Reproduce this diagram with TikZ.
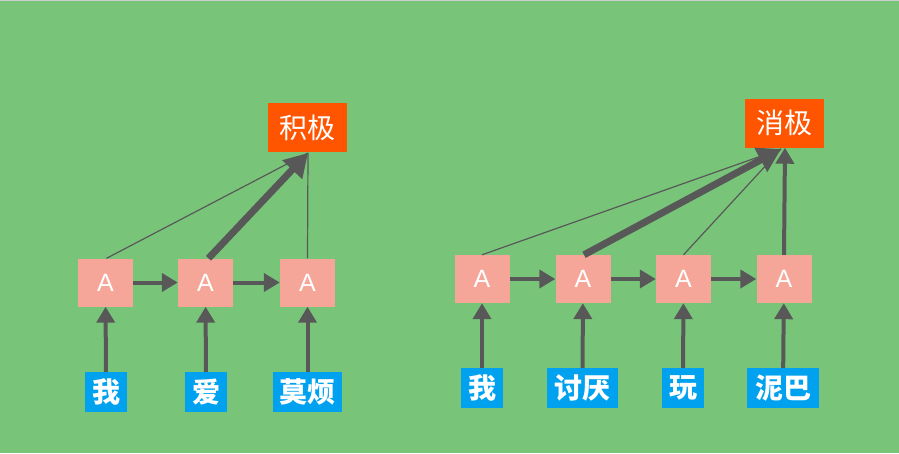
\documentclass[tikz,border=0pt]{standalone}
\usepackage{fontspec}
\setmainfont{Liberation Sans}
\newfontfamily\cjk{Noto Sans CJK SC}
\usetikzlibrary{arrows.meta}
\definecolor{bg}{RGB}{120,197,122}
\definecolor{abox}{RGB}{245,166,152}
\definecolor{outbox}{RGB}{255,85,0}
\definecolor{inbox}{RGB}{0,162,240}
\definecolor{arr}{RGB}{88,88,88}
\begin{document}
\begin{tikzpicture}[x=1pt,y=-1pt,
  cell/.style={fill=abox,text=white,minimum width=55pt,minimum height=48pt,inner sep=0pt,font=\fontsize{25}{25}\selectfont},
  word/.style={fill=inbox,text=white,minimum height=40pt,inner sep=0pt,font=\cjk\bfseries\fontsize{28}{28}\selectfont},
  senti/.style={fill=outbox,text=white,minimum width=79pt,minimum height=49pt,inner sep=0pt,font=\cjk\fontsize{28}{28}\selectfont},
  feed/.style={draw=arr,line width=4pt,-{Triangle[width=18pt,length=16pt]}},
  weak/.style={draw=arr,line width=1.2pt},
  strong/.style={draw=arr,line width=7pt,-{Triangle[width=26pt,length=23pt]}}]
\fill[bg] (0,0) rectangle (899,453);
\fill[black!20] (0,0) rectangle (899,1.2);
\useasboundingbox (0,0) rectangle (899,453);
% left
\node[cell] (l1) at (105.5,282.5) {A};
\node[cell] (l2) at (205.5,282.5) {A};
\node[cell] (l3) at (307.5,282.5) {A};
\node[word,minimum width=42pt] (lw1) at (106,392) {我};
\node[word,minimum width=42pt] (lw2) at (206,392) {爱};
\node[word,minimum width=69pt] (lw3) at (307.5,392) {莫烦};
\node[senti] (lo) at (307.5,127.5) {积极};
\coordinate (lt) at (308,153);
\draw[feed] (lw1) -- (l1);
\draw[feed] (lw2) -- (l2);
\draw[feed] (lw3) -- (l3);
\draw[feed] (l1) -- (l2);
\draw[feed] (l2) -- (l3);
\draw[weak] ([xshift=1pt]l1.north) -- (lt);
\draw[weak] (l3.north) -- (lt);
\draw[strong] ([xshift=3pt]l2.north) -- (lt);
% right
\node[cell] (r1) at (482,279) {A};
\node[cell] (r2) at (583,279) {A};
\node[cell] (r3) at (683.5,279) {A};
\node[cell] (r4) at (784,279) {A};
\node[word,minimum width=42pt] (rw1) at (482,388) {我};
\node[word,minimum width=71pt] (rw2) at (582.5,388) {讨厌};
\node[word,minimum width=42pt] (rw3) at (683,388) {玩};
\node[word,minimum width=72pt] (rw4) at (783,388) {泥巴};
\node[senti] (ro) at (784,123) {消极};
\coordinate (rt) at (781,149);
\draw[feed] (rw1) -- (r1);
\draw[feed] (rw2) -- (r2);
\draw[feed] (rw3) -- (r3);
\draw[feed] (rw4) -- (r4);
\draw[feed] (r1) -- (r2);
\draw[feed] (r2) -- (r3);
\draw[feed] (r3) -- (r4);
\draw[weak] (r1.north) -- (rt);
\draw[weak] (r3.north) -- (rt);
\draw[strong] ([xshift=1pt]r2.north) -- (rt);
\draw[feed] (r4.north) -- ([xshift=1pt]ro.south);
\end{tikzpicture}
\end{document}
